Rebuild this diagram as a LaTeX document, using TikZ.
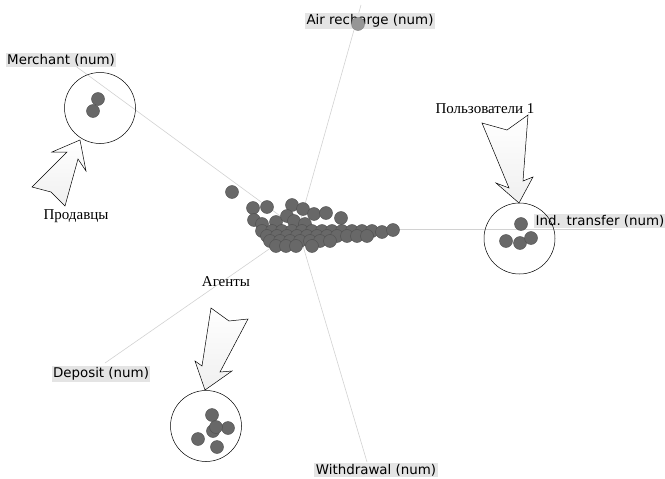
\documentclass[tikz,border=0pt]{standalone}
\usepackage{fontspec}
\setmainfont{Liberation Serif}
\setsansfont{DejaVu Sans}
\usetikzlibrary{calc}
\definecolor{trait}{RGB}{210,210,210}
\definecolor{fond}{RGB}{228,228,228}
\definecolor{point}{RGB}{104,104,104}
\definecolor{bordpoint}{RGB}{78,78,78}
\definecolor{pointclair}{RGB}{150,150,150}
\tikzset{
  axe/.style={draw=trait, line width=0.6pt},
  var/.style={fill=fond, inner sep=1.5pt, font=\sffamily\fontsize{13.4}{14}\selectfont},
  pt/.style={circle, fill=point, draw=bordpoint, line width=0.4pt, minimum size=13pt, inner sep=0pt},
  groupe/.style={circle, draw=black, line width=0.5pt, minimum size=71pt, inner sep=0pt},
  fleche/.style={draw=black, line width=0.5pt, top color=white, bottom color=gray!12},
  nom/.style={inner sep=0pt, font=\fontsize{15}{16}\selectfont}
}

\begin{document}
\begin{tikzpicture}[x=1pt,y=-1pt]
\useasboundingbox (0,0) rectangle (665,479);
%					Tracé des axes :
\coordinate (O) at (298,229);
\coordinate (a1) at (361,5);
\coordinate (a2) at (70,62);
\coordinate (a3) at (612,229);
\coordinate (a4) at (105,363);
\coordinate (a5) at (367,462);
\foreach \i in {1,...,5} \draw[axe] (O) -- (a\i);
%					Noms des variables :
\node[var] (air) at (370,21) {Air recharge (num)};
\node[var] (merchant) at (61,60) {Merchant (num)};
\node[var] (ind) at (600,221) {Ind. transfer (num)};
\node[var] (deposit) at (101,374) {Deposit (num)};
\node[var] (withdrawal) at (376,470) {Withdrawal (num)};
%					Nuage central :
\foreach \x/\y [count=\i] in {253/208,267/207,292/205,303/209,314/214,326/213,341/218,
  254/220,262/224,276/222,287/216,294/221,305/224,
  262/231,272/231,282/231,292/231,302/231,312/231,322/231,332/231,342/231,352/231,362/231,372/231,
  267/236,277/236,287/236,297/236,307/236,317/236,327/236,337/236,347/236,357/236,367/236,
  270/241,280/241,290/241,300/241,310/241,320/241,330/241,
  276/246,286/246,296/246,312/246,382/232,393/230}
  \node[pt] (c\i) at (\x,\y) {};
\node[pt] (seul) at (232,192) {};
\node[pt, fill=pointclair, draw=gray] (pair) at (358,24) {};
%					Groupes :
\foreach \x/\y [count=\i] in {98/99,93/111} \node[pt] (v\i) at (\x,\y) {};
\foreach \x/\y [count=\i] in {521/224,506/241,520/243,531/238} \node[pt] (u\i) at (\x,\y) {};
\foreach \x/\y [count=\i] in {212/415,198/439,217/447,228/428,213/431,216/427} \node[pt] (g\i) at (\x,\y) {};
\node[groupe] (vendeurs) at (100,108) {};
\node[groupe] (clients) at (519.5,238.5) {};
\node[groupe] (agents) at (206,426) {};
%					Flèches :
\draw[fleche] (80,140) -- (86,171) -- (78,159) -- (65,206) -- (51,192) -- (32,187)
  -- (67,152) -- (52,152) -- cycle;
\draw[fleche] (519,203) -- (533,177) -- (523,181) -- (528,115) -- (507,130) -- (482,123)
  -- (509,188) -- (496,183) -- cycle;
\draw[fleche] (205,390) -- (195,361) -- (202,366) -- (211,308) -- (229,321) -- (248,319)
  -- (220,372) -- (232,371) -- cycle;
\node[nom] (t1) at (76,216) {Продавцы};
\node[nom] (t2) at (485,109) {Пользователи 1};
\node[nom] (t3) at (226,282) {Агенты};
\end{tikzpicture}
\end{document}
